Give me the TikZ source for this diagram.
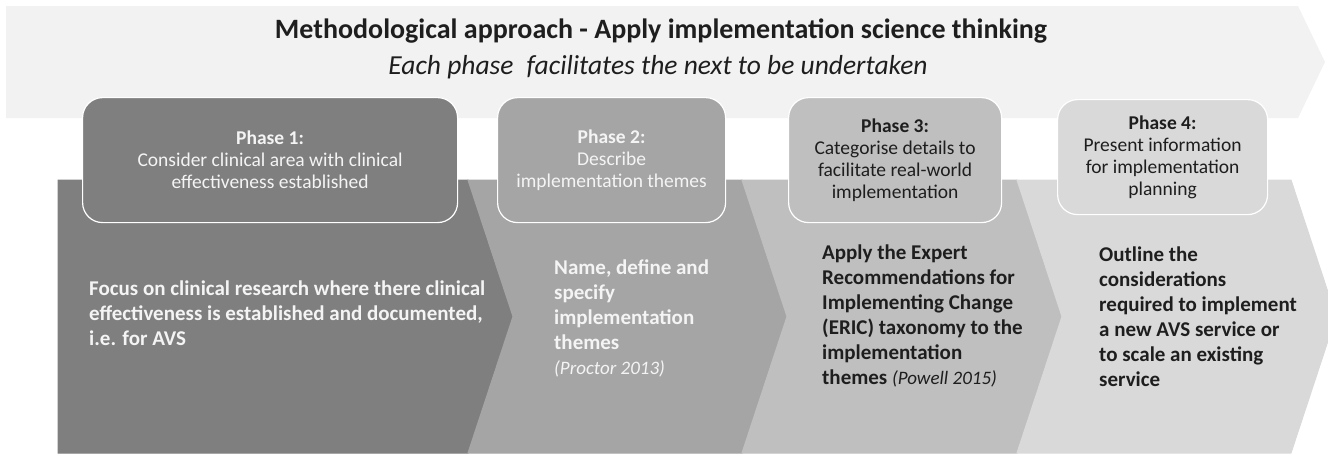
\documentclass[tikz,border=0pt]{standalone}
\usepackage{fontspec}
\setmainfont{Carlito}
\usepackage{tikz}
\usetikzlibrary{positioning}
\definecolor{bannergrey}{HTML}{F2F2F2}
\definecolor{phaseone}{HTML}{7F7F7F}
\definecolor{phasetwo}{HTML}{A5A5A5}
\definecolor{phasethree}{HTML}{BFBFBF}
\definecolor{phasefour}{HTML}{D9D9D9}
\definecolor{inkdark}{HTML}{1E1E1E}
\definecolor{inklight}{HTML}{F4F4F4}
\newcommand{\refnote}[1]{{\mdseries\itshape\fontsize{19}{25}\selectfont #1}}
\tikzset{
  banner/.style={fill=bannergrey},
  chevron/.style={draw=white,line width=1pt},
  phasebox/.style={rounded corners=20pt,draw=white,line width=1.2pt,align=center,
    inner sep=0pt,anchor=north west,font=\fontsize{19.5}{22}\selectfont},
  bodytext/.style={align=left,anchor=west,inner sep=0pt,
    font=\bfseries\fontsize{21}{25}\selectfont}
}
\begin{document}
\begin{tikzpicture}[x=1pt,y=-1pt]
  \useasboundingbox (0,0) rectangle (1328,453);
  % banner arrow
  \fill[banner] (6,6) -- (1298,6) -- (1325,62) -- (1298,118) -- (6,118) -- cycle;
  \node[font=\bfseries\fontsize{28}{32}\selectfont,text=inkdark] (title) at (661,31) {Methodological approach - Apply implementation science thinking};
  \node[font=\itshape\fontsize{27.5}{32}\selectfont,text=inkdark] (sub) at (658,67) {Each phase\hspace{0.25em} facilitates the next to be undertaken};
  % chevrons
  \fill[chevron,phaseone] (58,180) -- (468,180) -- (513,316.5) -- (468,453) -- (58,453) -- cycle;
  \foreach \xa/\xb/\col in {468/742/phasetwo,742/1017/phasethree,1017/1291/phasefour}
    \fill[chevron,\col] (\xa,180) -- (\xb,180) -- (\xb+45,316.5) -- (\xb,453) -- (\xa,453) -- (\xa+45,316.5) -- cycle;
  % phase boxes
  \node[phasebox,fill=phaseone,text=inklight,minimum width=375pt,minimum height=125pt] (ph1) at (82,97)
    {\textbf{Phase 1:}\\Consider clinical area with clinical\\effectiveness established};
  \node[phasebox,fill=phasetwo,text=inklight,minimum width=228pt,minimum height=125pt] (ph2) at (497,97)
    {\textbf{Phase 2:}\\Describe\\implementation themes};
  \node[phasebox,fill=phasethree,text=inkdark,minimum width=213pt,minimum height=125pt] (ph3) at (788,97)
    {\textbf{Phase 3:}\\Categorise details to\\facilitate real-world\\implementation};
  \node[phasebox,fill=phasefour,text=inkdark,minimum width=210pt,minimum height=115pt] (ph4) at (1057,99)
    {\textbf{Phase 4:}\\Present information\\for implementation\\planning};
  % chevron texts
  \node[bodytext,text=inklight] (d1) at (89,313)
    {Focus on clinical research where there clinical\\effectiveness is established and documented,\\i.e. for AVS};
  \node[bodytext,text=inklight] (d2) at (554,318)
    {Name, define and\\specify\\implementation\\themes\\\refnote{(Proctor 2013)}};
  \node[bodytext,text=inkdark] (d3) at (822,316)
    {Apply the Expert\\Recommendations for\\Implementing Change\\(ERIC) taxonomy to the\\implementation\\themes \refnote{(Powell 2015)}};
  \node[bodytext,text=inkdark] (d4) at (1099,317)
    {Outline the\\considerations\\required to implement\\a new AVS service or\\to scale an existing\\service};
\end{tikzpicture}
\end{document}
